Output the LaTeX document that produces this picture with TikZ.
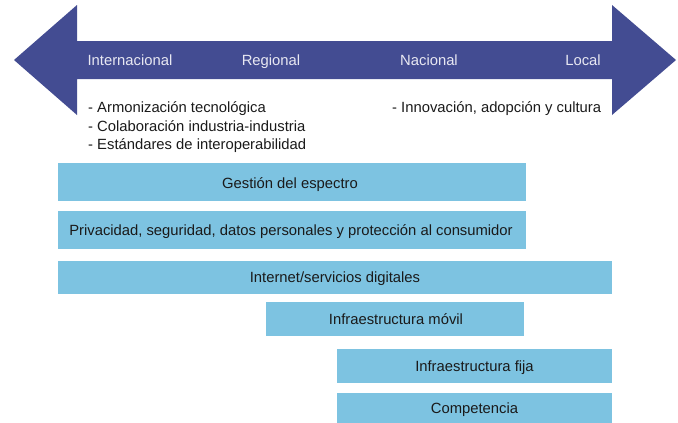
\documentclass[tikz,border=0pt]{standalone}
\usepackage{fontspec}
\setmainfont{Liberation Sans}
\definecolor{arrowblue}{HTML}{434C92}
\definecolor{barblue}{HTML}{7DC3E1}
\definecolor{arrowtext}{HTML}{E8E8F2}
\definecolor{bartext}{HTML}{1A1A1A}
\begin{document}
\begin{tikzpicture}[x=1pt,y=-1pt,
  bar/.style={fill=barblue,draw=none},
  bartxt/.style={text=bartext,font=\fontsize{14.8}{17}\selectfont,inner sep=0pt,anchor=base},
  scaletxt/.style={text=arrowtext,font=\fontsize{14.8}{17}\selectfont,inner sep=0pt,anchor=base},
  notetxt/.style={text=bartext,font=\fontsize{14.8}{17}\selectfont,inner sep=0pt,anchor=base west}]
\useasboundingbox (0,0) rectangle (678,423);
% double arrow
\fill[arrowblue] (14,60) -- (77,5) -- (77,41) -- (612,41) -- (612,5) -- (676,60)
  -- (612,115) -- (612,79) -- (77,79) -- (77,115) -- cycle;
\node[scaletxt] (int) at (130,65) {Internacional};
\node[scaletxt] (reg) at (271,65) {Regional};
\node[scaletxt] (nac) at (429,65) {Nacional};
\node[scaletxt] (loc) at (583,65) {Local};
% notes
\node[notetxt] (n1) at (88,112) {- Armonización tecnológica};
\node[notetxt] (n2) at (88,131) {- Colaboración industria-industria};
\node[notetxt] (n3) at (88,149) {- Estándares de interoperabilidad};
\node[notetxt] (n4) at (392,112) {- Innovación, adopción y cultura};
% bars
\fill[bar] (58,163) rectangle (526,201);
\node[bartxt] (b1) at (290,188) {Gestión del espectro};
\fill[bar] (58,211) rectangle (526,249);
\node[bartxt] (b2) at (291,235) {Privacidad, seguridad, datos personales y protección al consumidor};
\fill[bar] (58,261) rectangle (612,294);
\node[bartxt] (b3) at (335,282) {Internet/servicios digitales};
\fill[bar] (266,302) rectangle (524,336);
\node[bartxt] (b4) at (396,324) {Infraestructura móvil};
\fill[bar] (337,349) rectangle (612,383);
\node[bartxt] (b5) at (474.5,371) {Infraestructura fija};
\fill[bar] (337,393) rectangle (612,423);
\node[bartxt] (b6) at (474.5,413) {Competencia};
\end{tikzpicture}
\end{document}
